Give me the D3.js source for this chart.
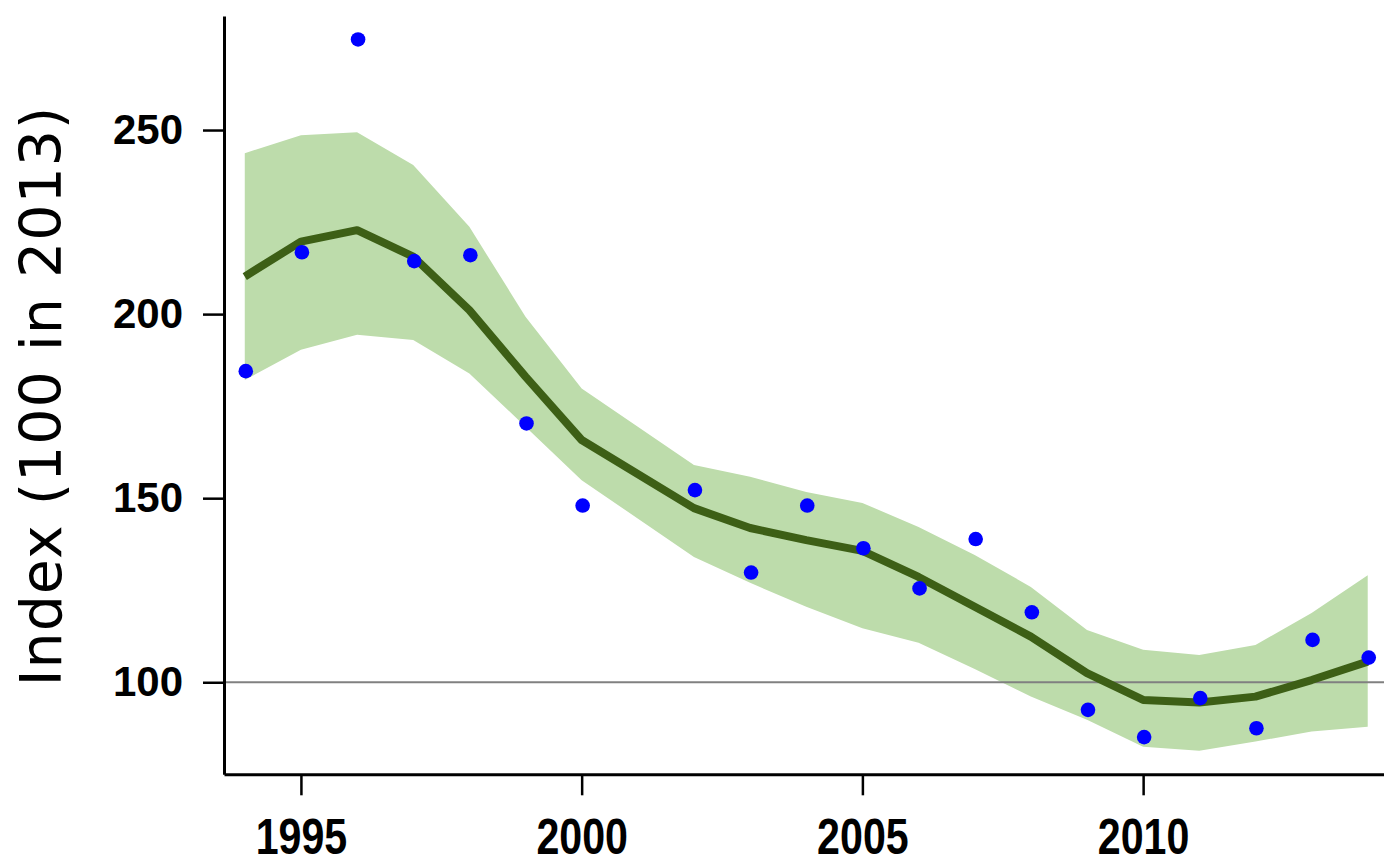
<!DOCTYPE html>
<html>
<head>
<meta charset="utf-8">
<script src="https://cdn.jsdelivr.net/npm/d3@7"></script>
<style>
  html, body { margin: 0; padding: 0; background: #fff; }
  svg { display: block; }
</style>
</head>
<body>
<svg id="chart" width="1384" height="854"></svg>
<script>
// ---- data ----
const years      = [1994,1995,1996,1997,1998,1999,2000,2002,2003,2004,2005,2006,2007,2008,2009,2010,2011,2012,2013,2014];
const observed   = [184.5,216.8,274.6,214.4,216.0,170.3,148.0,152.2,129.8,148.0,136.4,125.5,138.9,119.0,92.5,85.1,95.7,87.5,111.5,106.7];
const smoothed   = [210.2,219.7,222.8,215.6,201.1,183.0,165.8,147.3,141.9,138.6,135.7,128.6,120.5,112.4,102.5,95.2,94.5,96.1,100.6,105.6];
const upperBand  = [243.7,248.6,249.4,240.5,223.7,199.3,179.8,159.0,155.8,151.7,148.7,142.2,134.6,125.9,114.2,108.8,107.4,110.1,118.8,129.1];
const lowerBand  = [182.1,190.3,194.4,193.0,183.9,169.4,154.9,134.0,127.0,120.5,114.7,110.7,103.6,96.1,89.8,82.5,81.4,83.9,86.6,87.9];
const xTicks     = [1995,2000,2005,2010];
const yTicks     = [100,150,200,250];
const refValue   = 100;
const yTitle     = "Index (100 in 2013)";

const rows = years.map((yr,i)=>({year:yr, obs:observed[i], fit:smoothed[i], hi:upperBand[i], lo:lowerBand[i]}));

// ---- layout ----
const svg = d3.select("#chart");
const x = d3.scaleLinear().domain([1993.63, 2014.29]).range([224, 1384]);
const y = d3.scaleLinear().domain([75, 281]).range([774.3, 15.9]);

// band
svg.append("path")
  .datum(rows)
  .attr("fill", "#bddcab")
  .attr("d", d3.area().x(d=>x(d.year)).y0(d=>y(d.lo)).y1(d=>y(d.hi)));

// reference line at 100
svg.append("line")
  .attr("x1", x.range()[0]).attr("x2", x.range()[1])
  .attr("y1", y(refValue)).attr("y2", y(refValue))
  .attr("stroke", "#808080").attr("stroke-width", 2);

// smoothed line
svg.append("path")
  .datum(rows)
  .attr("fill", "none")
  .attr("stroke", "#3d5f16")
  .attr("stroke-width", 8)
  .attr("stroke-linejoin", "round")
  .attr("d", d3.line().x(d=>x(d.year)).y(d=>y(d.fit)));

// points
svg.append("g").selectAll("circle")
  .data(rows)
  .join("circle")
  .attr("cx", d=>x(d.year)+1)
  .attr("cy", d=>y(d.obs))
  .attr("r", 7.3)
  .attr("fill", "#0000ff");

// axes
const yAxis = svg.append("g")
  .attr("transform", "translate(224,0)")
  .call(d3.axisLeft(y).tickValues(yTicks).tickSize(21).tickSizeOuter(0).tickPadding(20));
const xAxis = svg.append("g")
  .attr("transform", "translate(0,774.3)")
  .call(d3.axisBottom(x).tickValues(xTicks).tickFormat(d3.format("d")).tickSize(21).tickSizeOuter(0));

[yAxis, xAxis].forEach(g=>{
  g.select(".domain").attr("stroke", "#000").attr("stroke-width", 3);
  g.selectAll(".tick line").attr("stroke", "#000").attr("stroke-width", 2.5);
  g.selectAll(".tick text")
    .attr("fill", "#000")
    .attr("font-family", "Liberation Sans, Arial, sans-serif")
    .attr("font-weight", "bold")
    .attr("font-size", 42);
});
// x tick labels: taller glyphs, top at ~818
xAxis.selectAll(".tick text")
  .attr("y", 0)
  .attr("dy", "0.72em")
  .attr("transform", "translate(0,43.5) scale(0.98,1.2)");

// y title
svg.append("text")
  .attr("transform", "translate(61,396) rotate(-90)")
  .attr("text-anchor", "middle")
  .attr("font-family", "Verdana, DejaVu Sans, sans-serif")
  .attr("font-size", 57)
  .attr("letter-spacing", 1)
  .attr("fill", "#000")
  .text(yTitle);
</script>
</body>
</html>
